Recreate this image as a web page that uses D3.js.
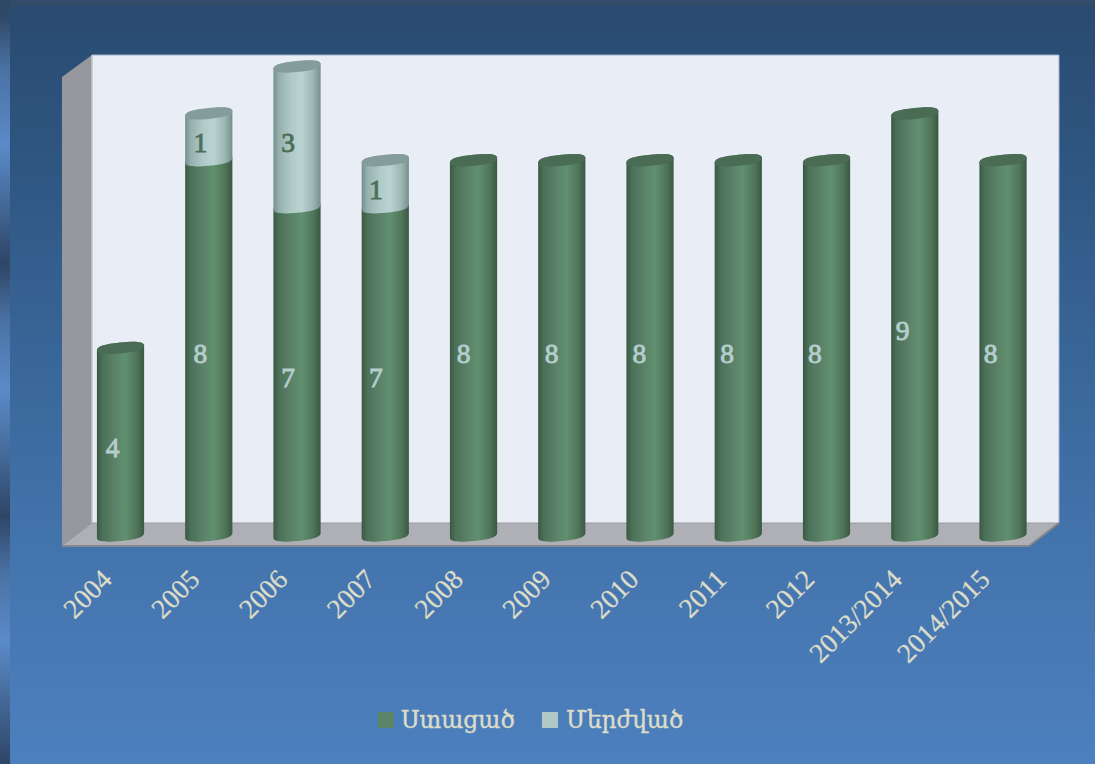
<!DOCTYPE html>
<html><head><meta charset="utf-8">
<script src="https://cdn.jsdelivr.net/npm/d3@7"></script>
<style>html,body{margin:0;padding:0;background:#2a4b72;overflow:hidden}svg{display:block}</style>
</head><body>
<svg id="c" width="1095" height="764"></svg>
<script>
const categories = ["2004","2005","2006","2007","2008","2009","2010","2011","2012","2013/2014","2014/2015"];
const received = [4,8,7,7,8,8,8,8,8,9,8];
const rejected = [0,1,3,1,0,0,0,0,0,0,0];
const seriesNames = ["Ստացած","Մերժված"];
const FONT = "'Liberation Serif','DejaVu Serif',serif";
const ARM_FONT = "'DejaVu Serif','Liberation Serif',serif";

const svg = d3.select("#c");
const defs = svg.append("defs");
function grad(id, stops, horizontal){
  const g = defs.append("linearGradient").attr("id",id)
    .attr("x1",0).attr("y1",0).attr("x2",horizontal?1:0).attr("y2",horizontal?0:1);
  stops.forEach(s=>g.append("stop").attr("offset",s[0]).attr("stop-color",s[1]));
}
grad("bg",[[0,"#294a70"],[0.25,"#305884"],[0.5,"#3a689c"],[0.72,"#4474ad"],[1,"#4c80be"]]);
grad("strip",[[0,"#2f4866"],[0.02,"#2f4866"],[0.09,"#4a72a4"],[0.19,"#5b8ac8"],[0.26,"#466c9c"],[0.345,"#2e4566"],[0.42,"#4a72a4"],[0.51,"#5b8ac8"],[0.59,"#466c9c"],[0.675,"#2e4566"],[0.75,"#4a72a4"],[0.84,"#5b8ac8"],[0.91,"#466c9c"],[1,"#2e4566"]]);
grad("green",[[0,"#3a5843"],[0.12,"#4c7058"],[0.38,"#5a8269"],[0.6,"#60906f"],[0.84,"#507559"],[1,"#3a5843"]],true);
grad("pale",[[0,"#73908c"],[0.12,"#95b0ae"],[0.38,"#b0cac7"],[0.6,"#bad3d0"],[0.84,"#9db6b4"],[1,"#73908c"]],true);

svg.append("rect").attr("width",1095).attr("height",764).attr("fill","url(#bg)");
svg.append("rect").attr("width",1095).attr("height",6).attr("fill","#324b68");
svg.append("rect").attr("width",10).attr("height",764).attr("fill","url(#strip)");

// plot frame
const wallL=92,wallR=1059,wallT=55,floorBack=523,dx=30,dy=23;
const zero=535.5;
const y=d3.scaleLinear().domain([0,10]).range([zero,zero-469]);
const x=d3.scaleBand().domain(categories).range([76.4,76.4+88.25*categories.length]).paddingInner(0.465).paddingOuter(0.2325);
// labels run on a slightly tighter pitch than the bars
const xLabel=d3.scaleBand().domain(categories).range([68.6,68.6+87.8*categories.length]);
const poly=p=>p.map(d=>d.join(",")).join(" ");
svg.append("polygon").attr("points",poly([[wallL,wallT],[wallR,wallT],[wallR,floorBack],[wallL,floorBack]])).attr("fill","#e9edf6");
svg.append("polyline").attr("points",poly([[wallL,wallT],[wallR,wallT],[wallR,floorBack]])).attr("fill","none").attr("stroke","#9fb2cc").attr("stroke-width",1);
svg.append("polygon").attr("points",poly([[wallL,wallT],[wallL,floorBack],[wallL-dx,floorBack+dy],[wallL-dx,wallT+dy-1]])).attr("fill","#97989d");
svg.append("line").attr("x1",wallL).attr("x2",wallL).attr("y1",wallT).attr("y2",floorBack).attr("stroke","#c3c6cc").attr("stroke-width",1.5);
svg.append("polygon").attr("points",poly([[wallL,floorBack],[wallR,floorBack],[wallR-dx,floorBack+dy],[wallL-dx,floorBack+dy]])).attr("fill","#aeb0b6");
svg.append("line").attr("x1",wallL).attr("x2",wallR).attr("y1",floorBack).attr("y2",floorBack).attr("stroke","#9a9ba0").attr("stroke-width",1);
svg.append("polyline").attr("points",poly([[wallR,floorBack],[wallR-dx,floorBack+dy],[wallL-dx,floorBack+dy]])).attr("fill","none").attr("stroke","#85878c").attr("stroke-width",2);

// cylinders: ends are sheared, slightly squared ellipses
const tilt=2.3, ry=5.5, k=0.68;
function pt(cx,cy,u,v){const r=x.bandwidth()/2;return `${cx+u},${cy+v-u*tilt/r}`;}
function arcLower(cx,cy){
  const r=x.bandwidth()/2;
  return `C${pt(cx,cy,-r,k*ry)} ${pt(cx,cy,-k*r,ry)} ${pt(cx,cy,0,ry)}C${pt(cx,cy,k*r,ry)} ${pt(cx,cy,r,k*ry)} ${pt(cx,cy,r,0)}`;
}
function arcUpper(cx,cy){
  const r=x.bandwidth()/2;
  return `C${pt(cx,cy,r,-k*ry)} ${pt(cx,cy,k*r,-ry)} ${pt(cx,cy,0,-ry)}C${pt(cx,cy,-k*r,-ry)} ${pt(cx,cy,-r,-k*ry)} ${pt(cx,cy,-r,0)}`;
}
function body(cx,yB,yT){
  const r=x.bandwidth()/2;
  return `M${pt(cx,yB,-r,0)}${arcLower(cx,yB)}L${pt(cx,yT,r,0)}${arcUpper(cx,yT)}Z`;
}
function capPath(cx,yT){
  const r=x.bandwidth()/2;
  return `M${pt(cx,yT,-r,0)}${arcLower(cx,yT)}${arcUpper(cx,yT)}Z`;
}
const rows=categories.map((c,i)=>({c,a:received[i],b:rejected[i]}));
const bars=svg.append("g");
rows.forEach(d=>{
  const cx=x(d.c)+x.bandwidth()/2;
  bars.append("path").attr("d",body(cx,y(0),y(d.a))).attr("fill","url(#green)");
  if(d.b>0){
    bars.append("path").attr("d",body(cx,y(d.a),y(d.a+d.b))).attr("fill","url(#pale)");
    bars.append("path").attr("d",capPath(cx,y(d.a+d.b))).attr("fill","#849d9b");
  } else bars.append("path").attr("d",capPath(cx,y(d.a))).attr("fill","#4a6b54");
});
// value labels
const labels=svg.append("g").attr("font-family",FONT).attr("font-size",27.5).attr("font-weight",400).attr("text-anchor","middle");
function lab(cx,yy,v,fill){
  labels.append("text").attr("x",cx).attr("y",yy+6).attr("dy","0.34em").attr("fill",fill).attr("stroke",fill).attr("stroke-width",0.9).text(v);
}
rows.forEach(d=>{
  const cx=xLabel(d.c)+xLabel.bandwidth()/2;
  lab(cx,y(d.a/2),d.a,"#b5cdcb");
  if(d.b>0) lab(cx,y(d.a+d.b/2),d.b,"#4d6f58");
});
// axis
const ax=svg.append("g").attr("transform","translate(0,546)").call(d3.axisBottom(xLabel).tickSize(0).tickPadding(0));
ax.select(".domain").remove();
ax.selectAll("text")
  .attr("font-family",FONT).attr("font-size",27.5).attr("fill","#dcdcc8")
  .attr("stroke","#dcdcc8").attr("stroke-width",0.25)
  .attr("text-anchor","end").attr("dy",null).attr("y",0)
  .attr("transform","translate(1,35) rotate(-45)");
// legend
const legendColors=["#5a8468","#b0c8c6"], legendX=[378,542], legendTextX=[401,566];
const lg=svg.append("g");
seriesNames.forEach((n,i)=>{
  lg.append("rect").attr("x",legendX[i]).attr("y",712).attr("width",16).attr("height",16).attr("fill",legendColors[i]);
  lg.append("text").attr("x",legendTextX[i]).attr("y",728).attr("font-family",ARM_FONT).attr("font-size",23.3).attr("fill","#dcdcc8").attr("stroke","#dcdcc8").attr("stroke-width",0.4).text(n);
});
</script>
</body></html>
